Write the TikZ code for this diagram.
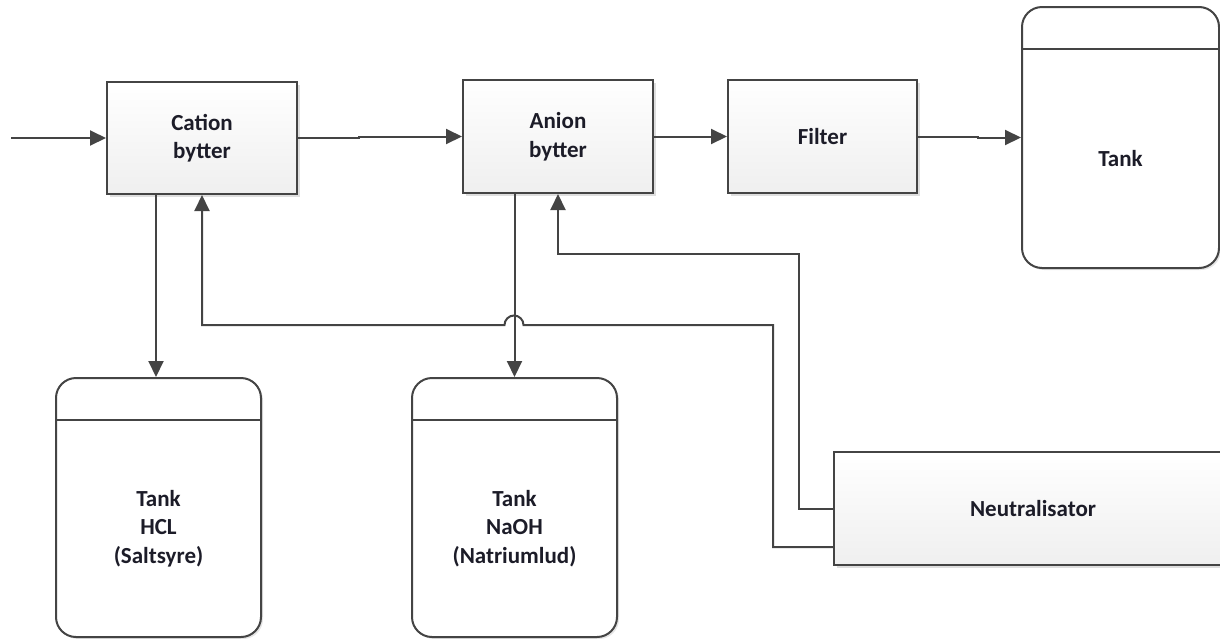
\documentclass[tikz,border=0pt]{standalone}
\usepackage{fontspec}
\setmainfont{Carlito}
\usetikzlibrary{arrows.meta,shadows,calc}
\definecolor{linegray}{HTML}{444444}
\definecolor{boxbot}{HTML}{EFEFEF}
\definecolor{txt}{HTML}{1C1C28}
\begin{document}
\begin{tikzpicture}[x=1pt,y=-1pt,
  labelfont/.style={font=\bfseries\fontsize{23}{28.5}\selectfont, text=txt},
  proc/.style={draw=linegray, line width=2pt, top color=white, bottom color=boxbot,
    minimum width=190pt, minimum height=112pt, align=center, inner sep=0pt, labelfont,
    drop shadow={shadow xshift=3pt, shadow yshift=-3pt, fill=black!13, opacity=1}},
  tankbox/.style={draw=linegray, line width=2pt, fill=white, rounded corners=20pt,
    minimum width=205pt, minimum height=259pt, inner sep=0pt,
    drop shadow={shadow xshift=2pt, shadow yshift=-2pt, fill=black!10, opacity=1}},
  tanktext/.style={align=center, inner sep=0pt, labelfont},
  header/.style={draw=linegray, line width=2pt},
  flow/.style={draw=linegray, line width=2pt, -{Triangle[length=16pt,width=15pt]}}]

\useasboundingbox (0,0) rectangle (1220,638);
\clip (0,0) rectangle (1220,638);

% process blocks
\node[proc] (cat) at (202,138) {Cation\\bytter};
\node[proc, minimum height=113pt] (ani) at (558,136.5) {Anion\\bytter};
\node[proc, minimum width=189pt, minimum height=113pt] (fil) at (822.5,136.5) {Filter};
\node[proc, minimum width=398pt, minimum height=113pt] (neu) at (1033,508.5) {Neutralisator};

% storage tanks
\node[tankbox, minimum width=197pt, minimum height=261pt] (tk) at (1120.5,137.5) {};
\node[tankbox] (hcl) at (158.5,507.5) {};
\node[tankbox] (nao) at (514.5,507.5) {};

\foreach \t in {tk,hcl,nao}
  \draw[header] ($(\t.north west)+(0,43)$) -- ($(\t.north east)+(0,43)$);

\node[tanktext] (tktext) at ($(tk.center)+(0,21)$) {Tank};
\node[tanktext] (hcltext) at ($(hcl.center)+(0,21)$) {Tank\\HCL\\(Saltsyre)};
\node[tanktext] (naotext) at ($(nao.center)+(0,21)$) {Tank\\NaOH\\(Natriumlud)};

% main flow
\coordinate (src) at (11,138);
\draw[flow] (src) -- (cat.west);
\draw[flow] (cat.east) -- ++(61,0) |- (ani.west);
\draw[flow] (ani.east) -- (fil.west);
\draw[flow] (fil.east) -- ++(60,0) |- (tk.west);

% drains to the chemical tanks
\draw[flow] ([xshift=-46pt]cat.south) -- ([xshift=-46pt]cat.south |- hcl.north);
\draw[flow] (nao.north |- ani.south) -- (nao.north);

% return lines from the neutraliser
\draw[flow] ($(neu.south west)+(0,-19)$) -| (773,325) -- (523.5,325)
  arc[start angle=0, end angle=-180, radius=9.5] -- (202,325) -- (cat.south);
\draw[flow] (neu.west) -| (799,254) -| (ani.south);
\end{tikzpicture}
\end{document}
